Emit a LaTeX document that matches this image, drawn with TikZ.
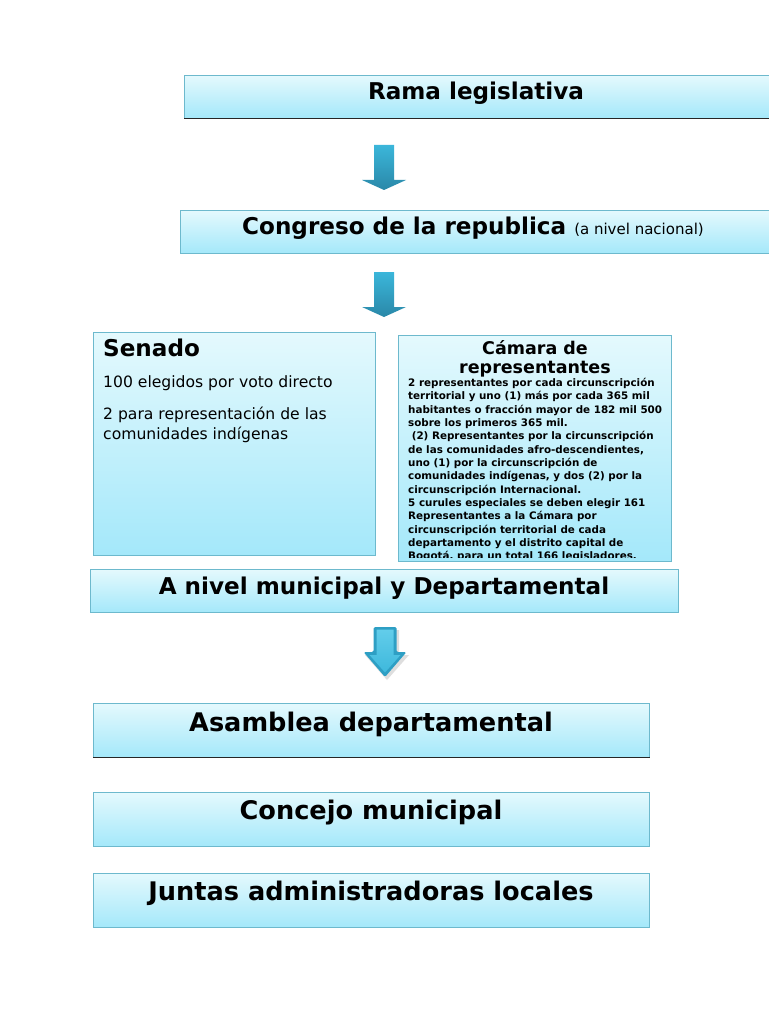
\documentclass[tikz,border=0pt]{standalone}
\usepackage{fontspec}
\setmainfont{DejaVu Sans}
\usetikzlibrary{calc}
\definecolor{boxtop}{HTML}{E4F9FD}
\definecolor{boxbot}{HTML}{A4E8FA}
\definecolor{boxborder}{HTML}{6DB9CD}
\definecolor{arrtop}{HTML}{3BB6DA}
\definecolor{arrbot}{HTML}{2A88A8}
\definecolor{arr3}{HTML}{2E9FC4}
\definecolor{arr3top}{HTML}{62CDEA}
\definecolor{arr3bot}{HTML}{3EB8DC}
\tikzset{
  lbox/.style={draw=boxborder, line width=0.8pt, top color=boxtop, bottom color=boxbot, inner sep=0pt, anchor=north west},
  bigtxt/.style={font=\fontsize{23.1}{27}\selectfont\bfseries, anchor=base, inner sep=0pt},
  hugetxt/.style={font=\fontsize{25.6}{30}\selectfont\bfseries, anchor=base, inner sep=0pt},
  smalltxt/.style={font=\fontsize{15.6}{20.5}\selectfont, anchor=base west, inner sep=0pt, align=left},
  shadowline/.style={draw=black!85, line width=1.3pt},
  pics/flatarrow/.style={code={
    \path[top color=arrtop, bottom color=arrbot] (-10,0) -- (10,0) -- (10,35) -- (22,35) -- (0,45) -- (-22,35) -- (-10,35) -- cycle;
  }},
  pics/bevelarrow/.style={code={
    \fill[black, opacity=0.13] (-9,3) -- (14,3) -- (14,28) -- (24,28) -- (2,53) -- (-20,28) -- (-9,28) -- cycle;
    \fill[arr3, rounded corners=1.5pt] (-11.5,0) -- (11.5,0) -- (11.5,25) -- (21.5,25) -- (0,50) -- (-21.5,25) -- (-11.5,25) -- cycle;
    \path[top color=arr3top, bottom color=arr3bot] (-8.5,2.5) -- (8.5,2.5) -- (8.5,28) -- (15.5,28) -- (0,45.5) -- (-15.5,28) -- (-8.5,28) -- cycle;
  }}
}
\begin{document}
\begin{tikzpicture}[x=1pt, y=-1pt]
\useasboundingbox (0,0) rectangle (768,1024);
\fill[white] (0,0) rectangle (768,1024);

% Rama legislativa
\node[lbox, minimum width=590pt, minimum height=43pt] (rama) at (184,75) {};
\draw[shadowline] (rama.south west) -- (rama.south east);
\node[bigtxt] (ramaT) at (476,100) {Rama legislativa};

\pic at (384,145) {flatarrow};

% Congreso
\node[lbox, minimum width=594pt, minimum height=43pt] (congreso) at (180,210) {};
\node[bigtxt] (congresoT) at (473,235) {Congreso de la republica {\fontsize{15}{18}\selectfont\mdseries (a nivel nacional)}};

\pic at (384,272) {flatarrow};

% Senado
\node[lbox, minimum width=282pt, minimum height=223pt] (senado) at (93,332) {};
\node[bigtxt, anchor=base west] (senadoT) at (103,356) {Senado};
\node[smalltxt] (senado1) at (103,387) {100 elegidos por voto directo};
\node[smalltxt] (senado2) at (103,439.5) {2 para representación de las\\comunidades indígenas};

% Camara
\node[lbox, minimum width=273pt, minimum height=226pt] (camara) at (398,335) {};
\node[font=\fontsize{17.5}{19}\selectfont\bfseries, anchor=base, inner sep=0pt, align=center] (camaraT) at (535,373) {Cámara de\\representantes};
\begin{scope}
\clip (398,335) rectangle (671,557.5);
\node[font=\fontsize{10.35}{13.33}\selectfont\bfseries, anchor=base west, inner sep=0pt, align=left] (camaraB) at (408,559.8) {%
2 representantes por cada circunscripción\\
territorial y uno (1) más por cada 365 mil\\
habitantes o fracción mayor de 182 mil 500\\
sobre los primeros 365 mil.\\
\ (2) Representantes por la circunscripción\\
de las comunidades afro-descendientes,\\
uno (1) por la circunscripción de\\
comunidades indígenas, y dos (2) por la\\
circunscripción Internacional.\\
5 curules especiales se deben elegir 161\\
Representantes a la Cámara por\\
circunscripción territorial de cada\\
departamento y el distrito capital de\\
Bogotá, para un total 166 legisladores.};
\end{scope}

% A nivel municipal
\node[lbox, minimum width=588pt, minimum height=43pt] (nivel) at (90,569) {};
\node[bigtxt] (nivelT) at (384,594) {A nivel municipal y Departamental};

\pic at (385,627) {bevelarrow};

% Lower boxes
\node[lbox, minimum width=556pt, minimum height=54pt] (asamblea) at (93,703) {};
\draw[shadowline] (asamblea.south west) -- (asamblea.south east);
\node[hugetxt] (asambleaT) at (371,731) {Asamblea departamental};

\node[lbox, minimum width=556pt, minimum height=54pt] (concejo) at (93,792) {};
\node[hugetxt] (concejoT) at (371,819) {Concejo municipal};

\node[lbox, minimum width=556pt, minimum height=54pt] (juntas) at (93,873) {};
\node[hugetxt] (juntasT) at (371,900) {Juntas administradoras locales};
\end{tikzpicture}
\end{document}
